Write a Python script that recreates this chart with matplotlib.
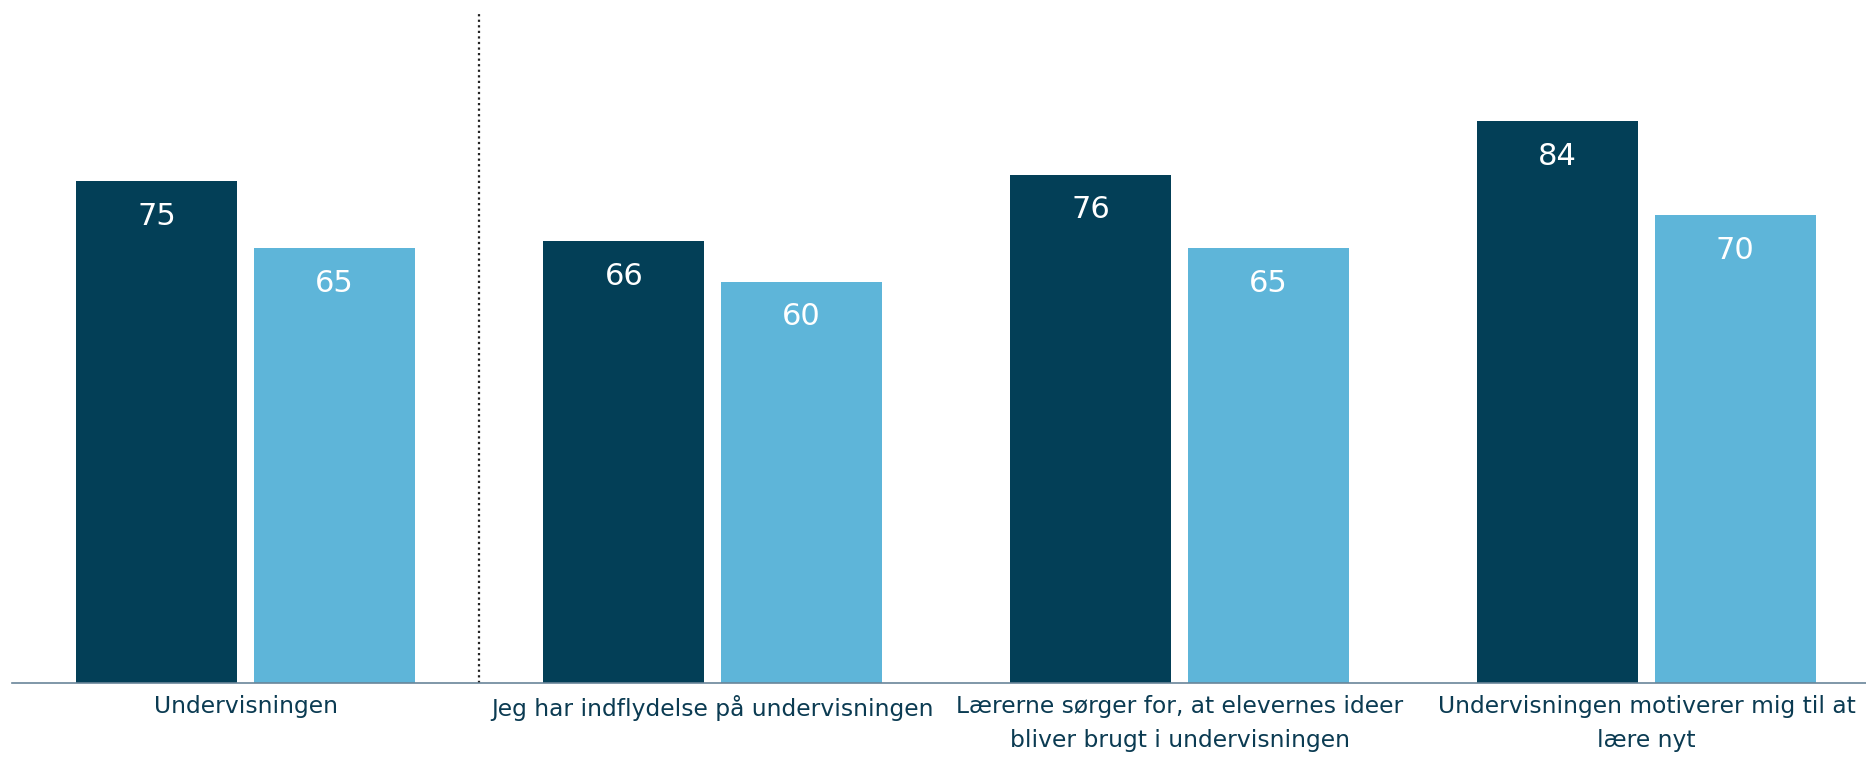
import matplotlib
matplotlib.use("Agg")
import matplotlib.pyplot as plt
import numpy as np

categories = [
    "Undervisningen",
    "Jeg har indflydelse på undervisningen",
    "Lærerne sørger for, at elevernes ideer\nbliver brugt i undervisningen",
    "Undervisningen motiverer mig til at\nlære nyt",
]
series_dark = [75, 66, 76, 84]
series_light = [65, 60, 65, 70]

DARK = "#033F57"
LIGHT = "#5EB5D9"
TEXT = "#0B3B52"

plt.rcParams["font.family"] = ["DejaVu Sans"]

fig = plt.figure(figsize=(18.66, 7.57), dpi=100)
ax = fig.add_axes([12 / 1866, 1 - 683 / 757, 1868 / 1866, 669 / 757])

x = np.arange(len(categories))
w = 0.345
off = 0.19
b1 = ax.bar(x - off, series_dark, width=w, color=DARK)
b2 = ax.bar(x + off, series_light, width=w, color=LIGHT)

for bars, vals in ((b1, series_dark), (b2, series_light)):
    for rect, v in zip(bars, vals):
        ax.annotate(f"{v}", (rect.get_x() + rect.get_width() / 2, v),
                    xytext=(0, -15), textcoords="offset points",
                    ha="center", va="top", color="white", fontsize=22)

ax.axvline(0.5, ymin=0, ymax=1, color="#222222", linestyle=(0, (1, 1.5)), linewidth=1.6)

ax.set_xlim(-0.5, 3.5)
ax.set_ylim(0, 100)
ax.set_xticks(x)
ax.set_xticklabels(categories, fontsize=16.8, color=TEXT, linespacing=1.63)
ax.tick_params(axis="x", length=0, pad=8.5)
ax.set_yticks([])
for s in ("top", "right", "left"):
    ax.spines[s].set_visible(False)
ax.spines["bottom"].set_color("#6A8599")
ax.spines["bottom"].set_linewidth(1.2)

fig.savefig("out.png", dpi=100)
